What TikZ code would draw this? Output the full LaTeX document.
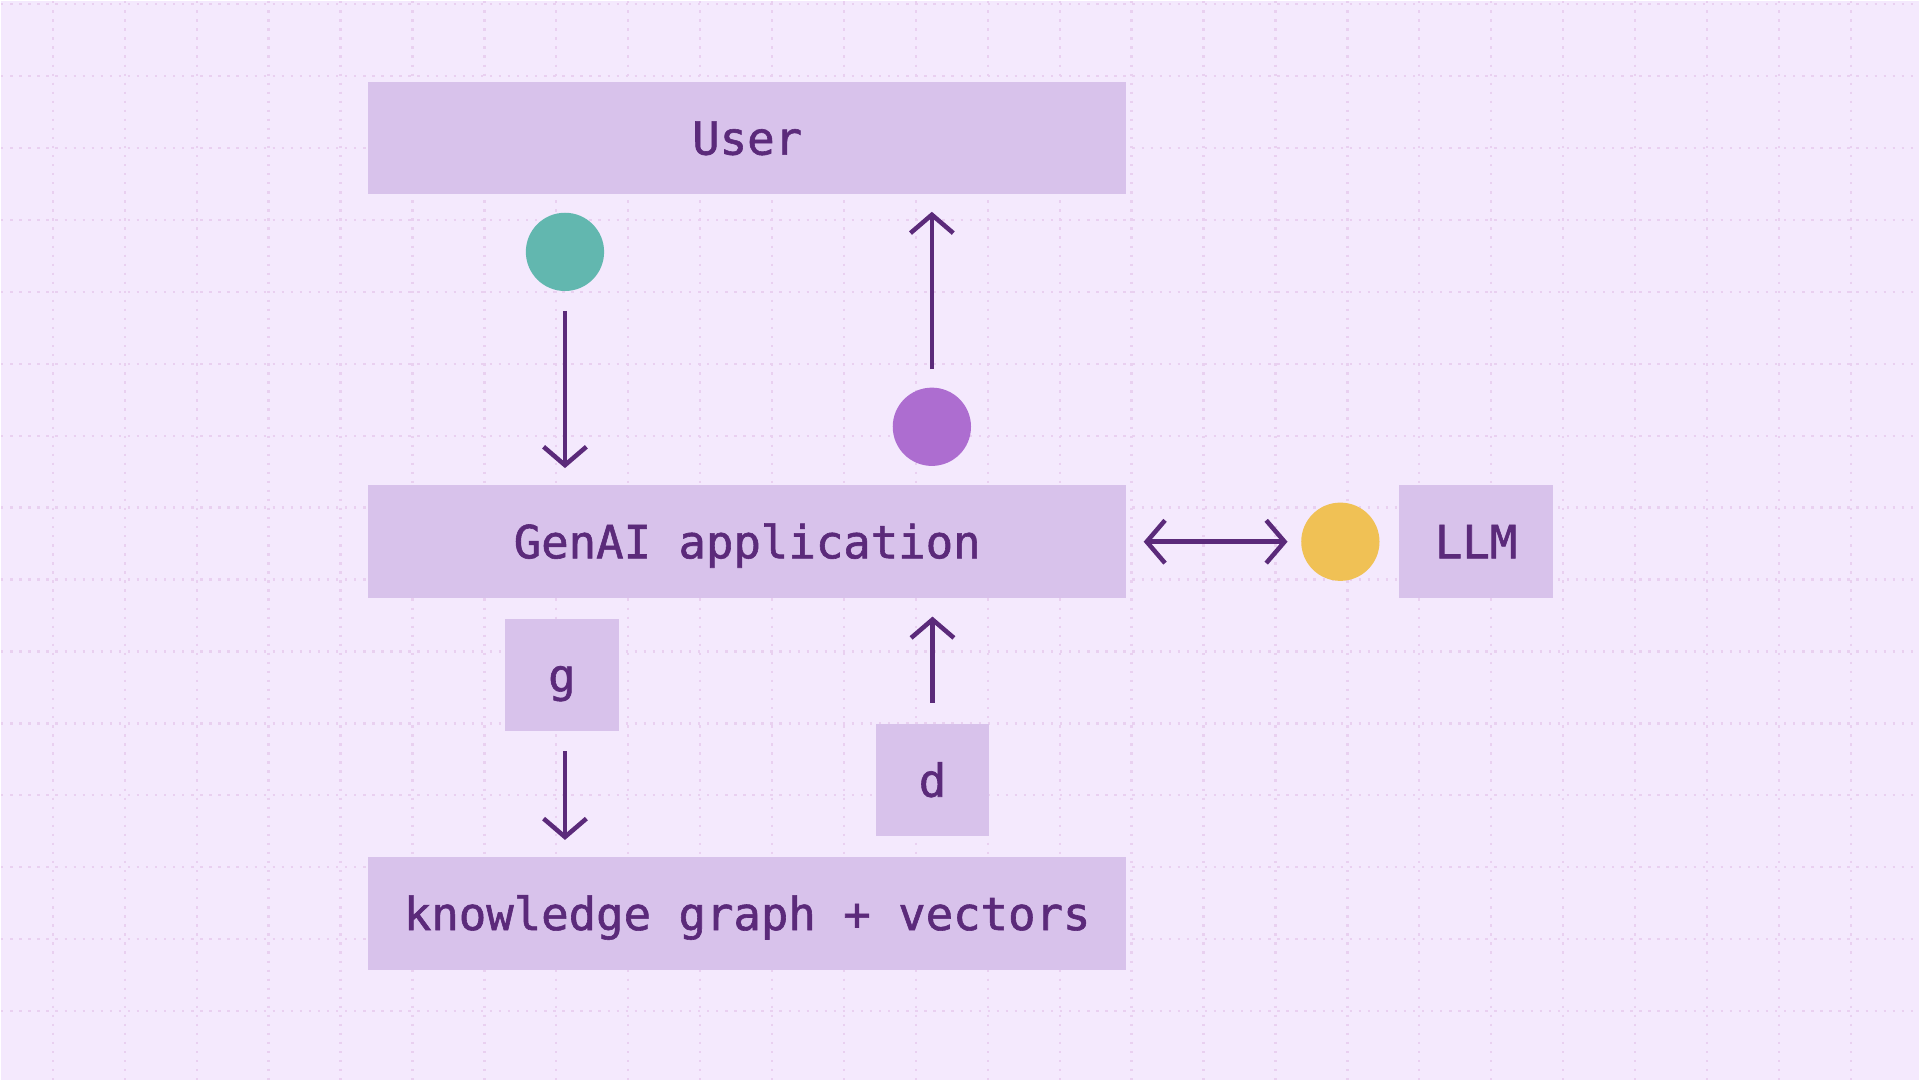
\documentclass[tikz,border=0pt]{standalone}
\usepackage{fontspec}
\setmonofont{DejaVu Sans Mono}
\usetikzlibrary{arrows.meta}
\definecolor{bgcol}{HTML}{F4E9FD}
\definecolor{gridcol}{HTML}{E9D0F0}
\definecolor{boxcol}{HTML}{D8C2EB}
\definecolor{inkcol}{HTML}{5B2A7A}
\definecolor{tealcol}{HTML}{62B7AF}
\definecolor{violetcol}{HTML}{AD6DD0}
\definecolor{goldcol}{HTML}{F0C155}

\begin{document}
\begin{tikzpicture}[x=1pt,y=-1pt,
    gridline/.style={draw=gridcol, line width=1.9pt, dash pattern=on 1.9pt off 5.5pt},
    box/.style={fill=boxcol, inner sep=0pt, text=inkcol, text height=27pt, text depth=0pt,
        font=\ttfamily\fontsize{37.3}{44}\selectfont\addfontfeature{FakeBold=1.3}},
    wide/.style={box, minimum width=620pt, minimum height=92pt},
    dot/.style={circle, inner sep=0pt, minimum size=64pt},
    flow/.style={draw=inkcol, line width=3.7pt, -{Straight Barb[length=15pt,width=35pt]}}]

        % Nen va luoi
        \fill[bgcol] (0,0) rectangle (1568,882);
        \foreach \i in {0,...,25} \draw[gridline] ({42.3+58.8*\i},0) -- ({42.3+58.8*\i},882);
        \foreach \i in {0,...,14} \draw[gridline] (0,{2.5+58.8*\i}) -- (1568,{2.5+58.8*\i});

        % Cac khoi chinh
        \node[wide] (user) at (610,112) {User};
        \node[wide] (app) at (610,442) {GenAI application};
        \node[wide] (kg) at (610,746) {knowledge graph + vectors};
        \node[box, minimum width=126pt, minimum height=92pt] (llm) at (1206,442) {LLM};
        \node[box, minimum width=93pt, minimum height=92pt] (g) at (458.5,551) {g}; % truy van
        \node[box, minimum width=93pt, minimum height=92pt] (d) at (761.5,637) {d}; % du lieu

        % Cac cham mau
        \node[dot, fill=tealcol] (qdot) at (461,205) {};
        \node[dot, fill=violetcol] (adot) at (761,348) {};
        \node[dot, fill=goldcol] (ldot) at (1095,442) {};

        % Cac mui ten
        \draw[flow, shorten <=16pt, shorten >=14pt] (qdot.south) -- (qdot.south |- app.north);
        \draw[flow, shorten <=15pt, shorten >=14pt] (adot.north) -- (adot.north |- user.south);
        \draw[flow, {Straight Barb[length=15pt,width=35pt]}-{Straight Barb[length=15pt,width=35pt]},
            shorten <=14pt, shorten >=11pt] (app.east) -- (ldot.west);
        \draw[flow, shorten <=16pt, shorten >=14pt] (qdot.south |- g.south) -- (qdot.south |- kg.north);
        \draw[flow, shorten <=17pt, shorten >=15pt] (d.north) -- (d.north |- app.south);

\end{tikzpicture}
\end{document}
